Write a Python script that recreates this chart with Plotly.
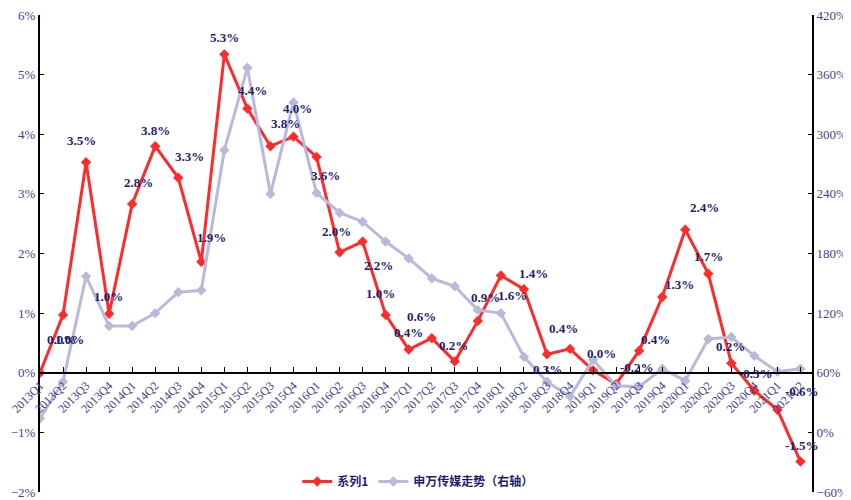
import plotly.graph_objects as go

quarters = [f"{y}Q{q}" for y in range(2013, 2022) for q in range(1, 5)][:34]

series1 = [0.0, 0.97, 3.53, 0.99, 2.83, 3.80, 3.27, 1.86, 5.34, 4.43, 3.80, 3.96,
           3.62, 2.02, 2.20, 0.97, 0.39, 0.58, 0.19, 0.87, 1.63, 1.40, 0.31, 0.40,
           0.04, -0.19, 0.37, 1.27, 2.40, 1.66, 0.16, -0.30, -0.62, -1.49]

media_index = [14, 51, 157, 107, 107, 120, 141, 143, 284, 367, 240, 332,
               241, 221, 212, 192, 175, 155, 147, 123, 120, 76, 51, 36,
               73, 47, 46, 64, 52, 94, 96, 77, 61, 64]

name1 = "系列1"
name2 = "申万传媒走势（右轴）"

# label offsets (px) relative to each point of series1
label_dx = [21, 6, -5, -1, 6, 0, 11, 10, 0, 5, 15, 4, 9, -3, 16, -5, 0, -10, -1, 8,
            12, 10, 1, -7, 8, 21, 16, 17, 19, 0, -1, 2, 25, 2]
label_dy = [33, -25, 22, 17, 22, 16, 21, 24, 17, 18, 23, 28, -19, 21, -24, 21, 17, 22, 16, 23,
            -20, 16, -15, 20, 17, 17, 11, 13, 22, 17, 17, 17, 18, 16]

red = "#FF2B2B"
grey = "#B9B9DB"
tick_color = "#3F3F92"
label_color = "#1E1E6E"
serif = "Liberation Serif, Times New Roman, serif"

fig = go.Figure()
fig.add_trace(go.Scatter(
    x=quarters, y=media_index, name=name2, mode="lines+markers",
    line=dict(color=grey, width=3),
    marker=dict(symbol="diamond", size=8, color=grey),
    yaxis="y2",
))
fig.add_trace(go.Scatter(
    x=quarters, y=series1, name=name1, mode="lines+markers",
    line=dict(color=red, width=3),
    marker=dict(symbol="diamond", size=8, color=red),
    yaxis="y",
))

for q, v, dx, dy in zip(quarters, series1, label_dx, label_dy):
    fig.add_annotation(
        x=q, y=v, xref="x", yref="y", text=f"<b>{v:.1f}%</b>",
        showarrow=False, xshift=dx, yshift=dy,
        font=dict(family=serif, size=13, color=label_color),
    )

fig.update_layout(
    width=851, height=500,
    margin=dict(l=32, r=47, t=7, b=16, autoexpand=False),
    plot_bgcolor="white", paper_bgcolor="white",
    showlegend=True,
    legend=dict(orientation="h", x=0.49, xanchor="center", y=0.022, yanchor="middle",
                font=dict(family="Noto Sans CJK SC", size=12, color=label_color, weight="bold"),
                traceorder="reversed", bgcolor="rgba(0,0,0,0)"),
    xaxis=dict(
        type="category", range=[0, 33.5], anchor="free", position=0.25,
        showline=True, linecolor="black", linewidth=2, automargin=False,
        ticks="inside", ticklen=5, tickcolor="black", tickwidth=1,
        tickangle=-45, showgrid=False, zeroline=False,
        tickfont=dict(family=serif, size=12, color=tick_color),
    ),
    yaxis=dict(
        range=[-2, 6], dtick=1, ticksuffix="%", automargin=False,
        ticklabeloverflow="allow",
        showline=True, linecolor="black", linewidth=2,
        ticks="inside", ticklen=4, tickcolor="black",
        showgrid=False, zeroline=False,
        tickfont=dict(family=serif, size=13, color=tick_color),
    ),
    yaxis2=dict(
        range=[-60, 420], dtick=60, ticksuffix="%", overlaying="y", side="right",
        ticklabeloverflow="allow",
        showline=True, linecolor="black", linewidth=2, automargin=False,
        ticks="inside", ticklen=4, tickcolor="black",
        showgrid=False, zeroline=False,
        tickfont=dict(family=serif, size=13, color=tick_color),
    ),
)

fig.write_html("out.html")
